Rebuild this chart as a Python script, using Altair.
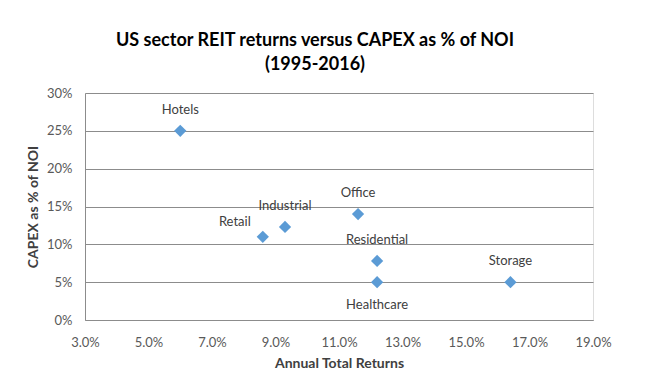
import altair as alt
import pandas as pd

sectors = ["Hotels", "Retail", "Industrial", "Office", "Residential", "Healthcare", "Storage"]
annual_returns = [0.060, 0.086, 0.093, 0.116, 0.122, 0.122, 0.164]
capex_pct_noi = [0.250, 0.110, 0.123, 0.140, 0.078, 0.050, 0.050]

x_ticks = [0.03, 0.05, 0.07, 0.09, 0.11, 0.13, 0.15, 0.17, 0.19]
y_ticks = [0.0, 0.05, 0.10, 0.15, 0.20, 0.25, 0.30]

df = pd.DataFrame({"sector": sectors, "ret": annual_returns, "capex": capex_pct_noi})

FONT = "Lato"
GRID = "#8c8c8c"

x = alt.X("ret:Q", scale=alt.Scale(domain=[0.03, 0.19], nice=False, zero=False),
          axis=alt.Axis(title="Annual Total Returns", values=x_ticks, format=".1%",
                        grid=False, ticks=False, domainColor=GRID, labelPadding=16,
                        labelFlush=False, labelOverlap=False,
                        labelFont=FONT, labelFontSize=13, labelColor="#595959",
                        titleFont=FONT, titleFontSize=14, titleFontWeight="bold",
                        titleColor="#404040", titlePadding=7))
y = alt.Y("capex:Q", scale=alt.Scale(domain=[0, 0.30], nice=False),
          axis=alt.Axis(title="CAPEX as % of NOI", values=y_ticks, format=".0%",
                        grid=True, gridColor=GRID, ticks=False, domainColor=GRID,
                        labelFlush=False, labelOverlap=False, tickCount=7,
                        labelPadding=13, labelFont=FONT, labelFontSize=13,
                        labelColor="#595959", titleFont=FONT, titleFontSize=14,
                        titleFontWeight="bold", titleColor="#404040", titlePadding=6))

base = alt.Chart(df)

points = base.mark_point(shape="diamond", filled=True, size=150, color="#5B9BD5",
                         opacity=1).encode(x=x, y=y)

txt = dict(font=FONT, fontSize=13, color="#404040")
above = base.mark_text(dy=-21, **txt).encode(x="ret:Q", y="capex:Q", text="sector:N").transform_filter(
    ~alt.FieldOneOfPredicate(field="sector", oneOf=["Retail", "Healthcare"]))
retail = base.mark_text(dx=-28, dy=-15, **txt).encode(x="ret:Q", y="capex:Q", text="sector:N").transform_filter(
    alt.FieldEqualPredicate(field="sector", equal="Retail"))
below = base.mark_text(dy=23, **txt).encode(x="ret:Q", y="capex:Q", text="sector:N").transform_filter(
    alt.FieldEqualPredicate(field="sector", equal="Healthcare"))

chart = alt.layer(points, above, retail, below).properties(
    width=508, height=227,
    title=alt.TitleParams(text=["US sector REIT returns versus CAPEX as % of NOI", "(1995-2016)"],
                          anchor="middle", font=FONT, fontSize=18, fontWeight="bold",
                          color="#000000", lineHeight=24, dx=-24, dy=23, offset=18,
                          baseline="bottom"),
    autosize=alt.AutoSizeParams(type="none"),
    padding={"left": 77, "top": 85, "right": 50, "bottom": 50},
).configure_view(stroke=None).configure(background="white")

chart.save("out.html", embed_options={"renderer": "svg", "actions": False})
